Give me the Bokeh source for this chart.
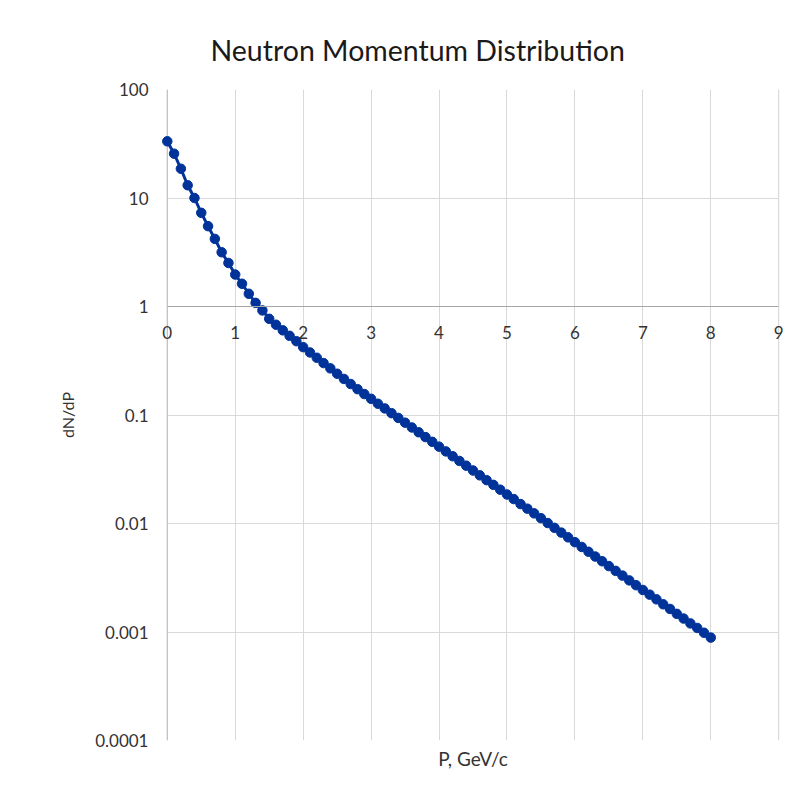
from bokeh.plotting import figure
from bokeh.models import FixedTicker, CustomJSTickFormatter, Title, ColumnDataSource, Range1d, BoxAnnotation, Span
from bokeh.embed import file_html
from bokeh.resources import INLINE

# ---- data ----
momentum = [
    0.0, 0.1, 0.2, 0.3, 0.4, 0.5, 0.6, 0.7, 0.8, 0.9,
    1.0, 1.1, 1.2, 1.3, 1.4, 1.5, 1.6, 1.7, 1.8, 1.9,
    2.0, 2.1, 2.2, 2.3, 2.4, 2.5, 2.6, 2.7, 2.8, 2.9,
    3.0, 3.1, 3.2, 3.3, 3.4, 3.5, 3.6, 3.7, 3.8, 3.9,
    4.0, 4.1, 4.2, 4.3, 4.4, 4.5, 4.6, 4.7, 4.8, 4.9,
    5.0, 5.1, 5.2, 5.3, 5.4, 5.5, 5.6, 5.7, 5.8, 5.9,
    6.0, 6.1, 6.2, 6.3, 6.4, 6.5, 6.6, 6.7, 6.8, 6.9,
    7.0, 7.1, 7.2, 7.3, 7.4, 7.5, 7.6, 7.7, 7.8, 7.9,
    8.0,
]
dn_dp = [
    33.3, 25.6, 18.6, 13.1, 10.0, 7.3, 5.5, 4.2, 3.16, 2.52,
    1.97, 1.62, 1.31, 1.08, 0.92, 0.77, 0.679, 0.603, 0.537, 0.479,
    0.422, 0.377, 0.337, 0.301, 0.269, 0.240, 0.215, 0.193, 0.173, 0.156,
    0.141, 0.127, 0.115, 0.104, 0.094, 0.085, 0.0767, 0.0693, 0.0626, 0.0566,
    0.0511, 0.0462, 0.0417, 0.0377, 0.0341, 0.0308, 0.0278, 0.0251, 0.0227, 0.0205,
    0.0185, 0.0168, 0.0151, 0.0137, 0.0124, 0.0112, 0.0101, 0.00912, 0.00824, 0.00745,
    0.00673, 0.00608, 0.00549, 0.00496, 0.00449, 0.00405, 0.00366, 0.00331, 0.00299, 0.00270,
    0.00244, 0.00221, 0.00200, 0.00180, 0.00163, 0.00147, 0.00133, 0.00120, 0.00109, 0.000984,
    0.000888,
]
x_min, x_max = 0, 9
x_ticks = [0, 1, 2, 3, 4, 5, 6, 7, 8, 9]
y_min, y_max = 0.0001, 100
y_ticks = [0.0001, 0.001, 0.01, 0.1, 1, 10, 100]
y_tick_labels = ["0.0001", "0.001", "0.01", "0.1", "1", "10", "100"]
x_axis_cross = 1

title_text = "Neutron Momentum Distribution"
x_title = "P, GeV/c"
y_title = "dN/dP"

FONT = "Lato"
TEXT = "#333333"
GRID = "#d9d9d9"
BLUE = "#00339A"
PAD = 0.1  # small room so the end tick labels are not clipped

src = ColumnDataSource(data=dict(p=momentum, n=dn_dp))

p = figure(
    width=788, height=784,
    y_axis_type="log",
    x_range=Range1d(x_min - PAD, x_max + PAD), y_range=Range1d(y_min, y_max),
    output_backend="svg", toolbar_location=None,
    min_border_left=160, min_border_right=3, min_border_top=89, min_border_bottom=44,
    background_fill_color="white", border_fill_color="white",
    outline_line_color=None,
)

p.title = Title(text=title_text, align="left", offset=50, standoff=46,
                text_font=FONT, text_font_size="28.5px", text_font_style="normal", text_color="#1a1a1a")
p.add_layout(Title(text=x_title, align="center", text_font=FONT, text_font_size="19px",
                   text_font_style="normal", text_color=TEXT, standoff=8), "below")

# grids
p.xgrid.ticker = FixedTicker(ticks=x_ticks)
p.ygrid.ticker = FixedTicker(ticks=y_ticks)
p.xgrid.grid_line_color = GRID
p.ygrid.grid_line_color = GRID
p.xgrid.grid_line_width = 1
p.ygrid.grid_line_width = 1

# hide the gridline stubs outside the 0..9 plot area
for box in (BoxAnnotation(right=x_min, fill_color="white", fill_alpha=1, line_color=None, level="underlay"),
            BoxAnnotation(left=x_max, fill_color="white", fill_alpha=1, line_color=None, level="underlay")):
    p.add_layout(box)
p.add_layout(Span(location=x_min, dimension="height", line_color="#bfbfbf", line_width=1.2, level="underlay"))
p.add_layout(Span(location=x_max, dimension="height", line_color=GRID, line_width=1, level="underlay"))

# x axis crossing at y = 1
xa = p.xaxis[0]
xa.ticker = FixedTicker(ticks=x_ticks)
xa.fixed_location = x_axis_cross
xa.bounds = (x_min, x_max)
xa.axis_line_color = "#a6a6a6"
xa.axis_line_width = 1.2
xa.major_tick_line_color = None
xa.minor_tick_line_color = None
xa.major_tick_out = 0
xa.major_tick_in = 0
xa.major_label_standoff = 19
xa.major_label_text_font = FONT
xa.major_label_text_font_size = "17px"
xa.major_label_text_color = TEXT

ya = p.yaxis[0]
ya.ticker = FixedTicker(ticks=y_ticks)
ya.formatter = CustomJSTickFormatter(args=dict(vals=y_ticks, labs=y_tick_labels), code="""
    let best = 0, bd = 1e9;
    for (let i = 0; i < vals.length; i++) {
        const d = Math.abs(Math.log10(tick) - Math.log10(vals[i]));
        if (d < bd) { bd = d; best = i; }
    }
    return labs[best];
""")
ya.axis_line_color = None
ya.major_tick_line_color = None
ya.minor_tick_line_color = None
ya.major_tick_out = 0
ya.major_tick_in = 0
ya.major_label_standoff = 12
ya.major_label_text_font = FONT
ya.major_label_text_font_size = "17px"
ya.major_label_text_color = TEXT
ya.axis_label = y_title
ya.axis_label_text_font = FONT
ya.axis_label_text_font_size = "16px"
ya.axis_label_text_font_style = "normal"
ya.axis_label_text_color = TEXT
ya.axis_label_standoff = 15

p.line("p", "n", source=src, line_color=BLUE, line_width=3)
p.scatter("p", "n", source=src, size=9.5, fill_color=BLUE, line_color=BLUE)

open("out.html", "w").write(file_html(p, INLINE))
